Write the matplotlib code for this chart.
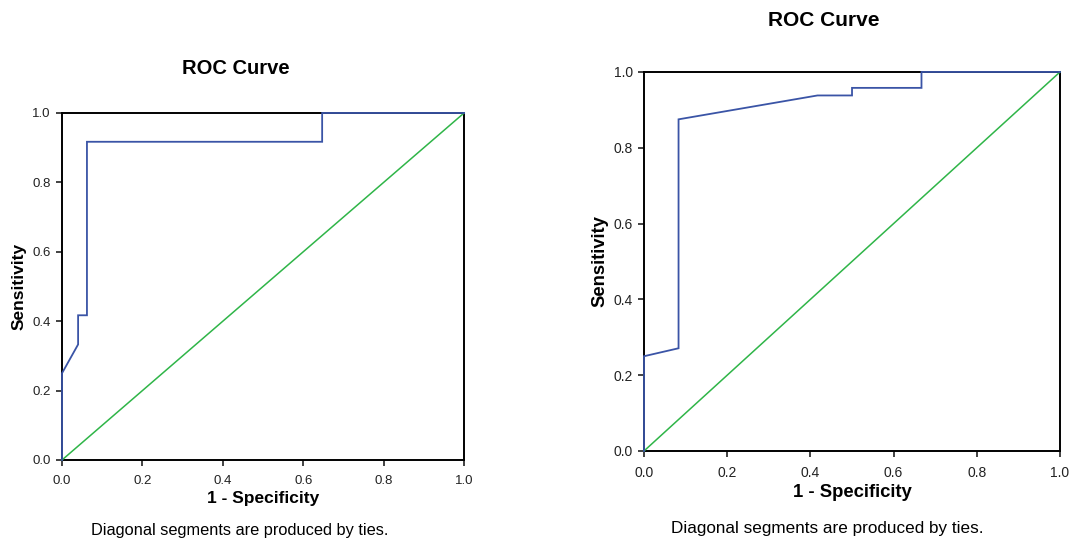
import matplotlib
matplotlib.use("Agg")
import matplotlib.pyplot as plt

plt.rcParams['font.family'] = ['Liberation Sans', 'DejaVu Sans']

# Curva ROC izquierda (1 - especificidad, sensibilidad)
fpr_izq = [0.0, 0.0, 0.04, 0.04, 0.062, 0.062, 0.647, 0.647, 1.0]
tpr_izq = [0.0, 0.25, 0.333, 0.417, 0.417, 0.917, 0.917, 1.0, 1.0]

# Curva ROC derecha
fpr_der = [0.0, 0.0, 0.083, 0.083, 0.417, 0.5, 0.5, 0.667, 0.667, 1.0]
tpr_der = [0.0, 0.25, 0.271, 0.875, 0.938, 0.938, 0.958, 0.958, 1.0, 1.0]

ticks = [0.0, 0.2, 0.4, 0.6, 0.8, 1.0]
AZUL = "#3a54a6"
VERDE = "#2fb548"

fig = plt.figure(figsize=(10.73, 5.39), dpi=100)


def dibujar_roc(ax, fpr, tpr, tick_size, label_size):
    ax.plot([0, 1], [0, 1], color=VERDE, lw=1.1, clip_on=False, zorder=3)
    ax.plot(fpr, tpr, color=AZUL, lw=1.3, solid_joinstyle="miter", clip_on=False, zorder=4)
    ax.set_xlim(0, 1)
    ax.set_ylim(0, 1)
    ax.set_xticks(ticks)
    ax.set_yticks(ticks)
    ax.set_xticklabels([f"{t:.1f}" for t in ticks])
    ax.set_yticklabels([f"{t:.1f}" for t in ticks])
    ax.tick_params(direction="out", length=4.5, width=1.2, labelsize=tick_size, colors="#222222")
    ax.tick_params(axis="x", pad=6)
    ax.tick_params(axis="y", pad=3.5)
    for s in ax.spines.values():
        s.set_linewidth(1.4)
        s.set_zorder(2)
    ax.set_xlabel("1 - Specificity", fontsize=label_size, fontweight="bold", labelpad=3)
    ax.set_ylabel("Sensitivity", fontsize=label_size, fontweight="bold", labelpad=4)


ax1 = fig.add_axes([0.0578, 0.1466, 0.3747, 0.6438])
dibujar_roc(ax1, fpr_izq, tpr_izq, 9.5, 12.5)
fig.text(235.5 / 1073, 1 - 68 / 539, "ROC Curve", ha="center", va="center", fontsize=14.5, fontweight="bold")
fig.text(240 / 1073, 1 - 531 / 539, "Diagonal segments are produced by ties.", ha="center", va="center", fontsize=11.8)

ax2 = fig.add_axes([0.6002, 0.1633, 0.3877, 0.7032])
dibujar_roc(ax2, fpr_der, tpr_der, 10, 13.3)
fig.text(824 / 1073, 1 - 21 / 539, "ROC Curve", ha="center", va="center", fontsize=15, fontweight="bold")
fig.text(827 / 1073, 1 - 528 / 539, "Diagonal segments are produced by ties.", ha="center", va="center", fontsize=12.3)

fig.savefig("out.png", dpi=100)
